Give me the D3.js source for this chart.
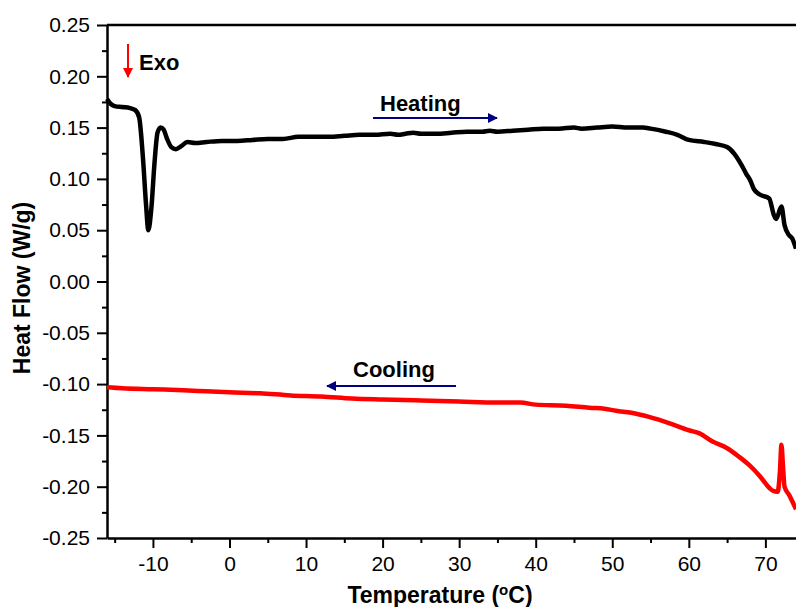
<!DOCTYPE html>
<html>
<head>
<meta charset="utf-8">
<script src="https://cdn.jsdelivr.net/npm/d3@7"></script>
<style>
  body { margin: 0; background: #fff; }
  svg { display: block; font-family: Arial, "Liberation Sans", sans-serif; }
</style>
</head>
<body>
<div id="chart"></div>
<script>
// DSC curves
const heatTemp = [-16, -15.5, -15, -14, -13, -12.3, -11.8, -11.3, -10.9, -10.6, -10.2, -9.8, -9.4, -9.0, -8.6, -8.2, -7.6, -7.0, -6.3, -5.5, -4.5, -3, -1, 0, 1, 3, 5, 7, 9, 11, 13, 15, 17, 19, 21, 22, 23, 24, 25, 27, 29, 31, 33, 34, 35, 37, 39, 41, 43, 45, 46, 48, 50, 52, 54, 55, 57, 58.5, 60, 62, 63.5, 65, 66, 67, 67.5, 68, 68.5, 69.2, 70.5, 71.1, 71.4, 72.1, 72.5, 73.1, 73.5, 74];
const heatFlow = [0.178, 0.173, 0.171, 0.170, 0.169, 0.167, 0.160, 0.120, 0.075, 0.050, 0.072, 0.115, 0.145, 0.150, 0.148, 0.140, 0.131, 0.129, 0.132, 0.136, 0.135, 0.136, 0.137, 0.137, 0.137, 0.138, 0.139, 0.139, 0.141, 0.141, 0.141, 0.142, 0.143, 0.143, 0.144, 0.143, 0.144, 0.145, 0.144, 0.144, 0.145, 0.146, 0.146, 0.147, 0.146, 0.147, 0.148, 0.149, 0.149, 0.150, 0.149, 0.150, 0.151, 0.150, 0.150, 0.149, 0.146, 0.143, 0.138, 0.136, 0.134, 0.131, 0.124, 0.112, 0.105, 0.099, 0.090, 0.085, 0.081, 0.065, 0.061, 0.073, 0.055, 0.045, 0.042, 0.032];

const coolTemp = [-16, -14, -10, -6, -3, 0, 4, 8, 12, 16, 20, 25, 30, 35, 38, 40, 44, 47, 49, 50.5, 52.5, 54.8, 57.4, 60, 61.4, 63.1, 64.9, 66.6, 67.9, 69.2, 70.5, 71.0, 71.6, 71.9, 72.1, 72.3, 72.5, 73.1, 74];
const coolFlow = [-0.103, -0.104, -0.105, -0.106, -0.107, -0.108, -0.109, -0.111, -0.112, -0.114, -0.115, -0.116, -0.117, -0.118, -0.118, -0.120, -0.121, -0.123, -0.124, -0.126, -0.128, -0.132, -0.138, -0.145, -0.148, -0.156, -0.162, -0.171, -0.179, -0.189, -0.201, -0.204, -0.205, -0.185, -0.159, -0.180, -0.200, -0.208, -0.222];

const xTicks = [-10, 0, 10, 20, 30, 40, 50, 60, 70];
const yTicks = [-0.25, -0.20, -0.15, -0.10, -0.05, 0.00, 0.05, 0.10, 0.15, 0.20, 0.25];

const width = 796, height = 607;
const svg = d3.select("#chart").append("svg")
    .attr("width", width)
    .attr("height", height);

const x = d3.scaleLinear().domain([-16, 74]).range([107, 796]);
const y = d3.scaleLinear().domain([-0.25, 0.25]).range([538, 25]);

const hyphen = f => d => f(d).replace("\u2212", "-");

// minor ticks
const xMinor = d3.range(-15, 75, 5).filter(v => v % 10 !== 0);
const yMinor = d3.range(-0.225, 0.25, 0.05);

svg.append("g")
    .attr("transform", `translate(0,${y(-0.25)})`)
    .call(d3.axisBottom(x).tickValues(xMinor).tickSize(5).tickFormat(""))
    .call(g => g.selectAll("line").attr("stroke-width", 2))
    .call(g => g.select(".domain").remove());

svg.append("g")
    .attr("transform", `translate(${x(-16)},0)`)
    .call(d3.axisLeft(y).tickValues(yMinor).tickSize(5).tickFormat(""))
    .call(g => g.selectAll("line").attr("stroke-width", 2))
    .call(g => g.select(".domain").remove());

// main axes
const xAxis = svg.append("g")
    .attr("transform", `translate(0,${y(-0.25)})`)
    .call(d3.axisBottom(x).tickValues(xTicks).tickSize(10).tickSizeOuter(0).tickPadding(8).tickFormat(hyphen(d3.format("d"))));
xAxis.selectAll("line").attr("stroke-width", 2);
xAxis.select(".domain").attr("stroke-width", 2.5);
xAxis.selectAll("text").style("font-size", "21px").attr("fill", "#000");

const yAxis = svg.append("g")
    .attr("transform", `translate(${x(-16)},0)`)
    .call(d3.axisLeft(y).tickValues(yTicks).tickSize(10).tickSizeOuter(0).tickPadding(7).tickFormat(hyphen(d3.format(".2f"))));
yAxis.selectAll("line").attr("stroke-width", 2);
yAxis.select(".domain").attr("stroke-width", 2.5);
yAxis.selectAll("text").style("font-size", "21px").attr("fill", "#000");

// top frame line
svg.append("line")
    .attr("x1", x(-16)).attr("x2", width)
    .attr("y1", y(0.25)).attr("y2", y(0.25))
    .attr("stroke", "#000").attr("stroke-width", 2.5);

// curves
const line = d3.line()
    .x(d => x(d[0]))
    .y(d => y(d[1]))
    .curve(d3.curveMonotoneX);

svg.append("path")
    .datum(heatTemp.map((t, i) => [t, heatFlow[i]]))
    .attr("fill", "none")
    .attr("stroke", "#000")
    .attr("stroke-width", 4.5)
    .attr("stroke-linejoin", "round")
    .attr("d", line);

svg.append("path")
    .datum(coolTemp.map((t, i) => [t, coolFlow[i]]))
    .attr("fill", "none")
    .attr("stroke", "#ff0000")
    .attr("stroke-width", 4.5)
    .attr("stroke-linejoin", "round")
    .attr("d", line);

// arrow markers
const defs = svg.append("defs");
defs.append("marker")
    .attr("id", "navyHead")
    .attr("viewBox", "0 0 10 10")
    .attr("refX", 9).attr("refY", 5)
    .attr("markerWidth", 6).attr("markerHeight", 5)
    .attr("markerUnits", "strokeWidth")
    .attr("orient", "auto")
    .append("path").attr("d", "M0,0 L10,5 L0,10 z").attr("fill", "#000080");
defs.append("marker")
    .attr("id", "redHead")
    .attr("viewBox", "0 0 10 10")
    .attr("refX", 9).attr("refY", 5)
    .attr("markerWidth", 6).attr("markerHeight", 5)
    .attr("markerUnits", "strokeWidth")
    .attr("orient", "auto")
    .append("path").attr("d", "M0,0 L10,5 L0,10 z").attr("fill", "#ff0000");

// Exo
svg.append("line")
    .attr("x1", 128).attr("x2", 128).attr("y1", 44).attr("y2", 77)
    .attr("stroke", "#ff0000").attr("stroke-width", 2)
    .attr("marker-end", "url(#redHead)");
svg.append("text")
    .attr("x", 139).attr("y", 70)
    .style("font-size", "22px").style("font-weight", "bold")
    .text("Exo");

// Heating annotation
svg.append("text")
    .attr("x", 380).attr("y", 111)
    .style("font-size", "22px").style("font-weight", "bold")
    .text("Heating");
svg.append("line")
    .attr("x1", 373).attr("x2", 497).attr("y1", 118).attr("y2", 118)
    .attr("stroke", "#000080").attr("stroke-width", 2)
    .attr("marker-end", "url(#navyHead)");

// Cooling annotation
svg.append("text")
    .attr("x", 353).attr("y", 377)
    .style("font-size", "22px").style("font-weight", "bold")
    .text("Cooling");
svg.append("line")
    .attr("x1", 456).attr("x2", 327).attr("y1", 386).attr("y2", 386)
    .attr("stroke", "#000080").attr("stroke-width", 2)
    .attr("marker-end", "url(#navyHead)");

// axis titles
const xTitle = svg.append("text")
    .attr("x", 440).attr("y", 603)
    .attr("text-anchor", "middle")
    .style("font-size", "23px").style("font-weight", "bold");
xTitle.append("tspan").text("Temperature (");
xTitle.append("tspan").attr("dy", -8).style("font-size", "15px").text("o");
xTitle.append("tspan").attr("dy", 8).text("C)");

svg.append("text")
    .attr("transform", "translate(30,288) rotate(-90)")
    .attr("text-anchor", "middle")
    .style("font-size", "23px").style("font-weight", "bold")
    .text("Heat Flow (W/g)");
</script>
</body>
</html>
